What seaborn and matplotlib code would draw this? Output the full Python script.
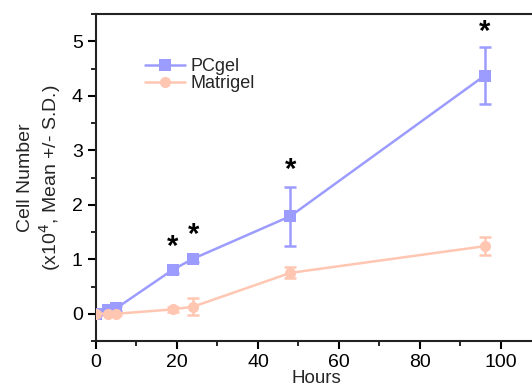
import matplotlib
matplotlib.use("Agg")
import matplotlib.pyplot as plt
import seaborn as sns
import pandas as pd
from matplotlib.ticker import MultipleLocator

hours = [0, 3, 5, 19, 24, 48, 96]
pcgel_mean = [0.0, 0.07, 0.10, 0.81, 1.01, 1.79, 4.37]
pcgel_sd = [0.03, 0.04, 0.05, 0.06, 0.06, 0.54, 0.52]
matrigel_mean = [0.0, 0.0, 0.0, 0.08, 0.13, 0.75, 1.24]
matrigel_sd = [0.02, 0.02, 0.03, 0.05, 0.15, 0.10, 0.16]
star_x = [19, 24, 48, 96]
star_y = [1.22, 1.44, 2.64, 5.17]

blue = "#9C9CFF"
peach = "#FFC6B2"

sns.set_style("ticks")
plt.rcParams['font.family'] = ['Liberation Sans', 'DejaVu Sans']

df = pd.DataFrame({
    "Hours": hours * 2,
    "Value": pcgel_mean + matrigel_mean,
    "Group": ["PCgel"] * len(hours) + ["Matrigel"] * len(hours),
})

fig = plt.figure(figsize=(5.32, 3.87), dpi=100)
ax = fig.add_axes([96/532, 46/387, 1 - 96/532 + 0.01, (341-14)/387])

ax.errorbar(hours, pcgel_mean, yerr=pcgel_sd, fmt='none', ecolor=blue, elinewidth=1.8, capsize=4, capthick=1.8, zorder=2)
ax.errorbar(hours, matrigel_mean, yerr=matrigel_sd, fmt='none', ecolor=peach, elinewidth=1.8, capsize=4, capthick=1.8, zorder=2)

sns.lineplot(data=df, x="Hours", y="Value", hue="Group", style="Group",
             markers={"PCgel": "s", "Matrigel": "o"}, dashes=False,
             palette={"PCgel": blue, "Matrigel": peach},
             linewidth=1.8, markersize=8, markeredgewidth=0, ax=ax, zorder=3)

for sx, sy in zip(star_x, star_y):
    ax.text(sx, sy, "*", ha="center", va="center", fontsize=21, fontweight="bold", color="black")

ax.set_xlim(0, 109)
ax.set_ylim(-0.5, 5.5)
ax.xaxis.set_major_locator(MultipleLocator(20))
ax.xaxis.set_minor_locator(MultipleLocator(10))
ax.yaxis.set_major_locator(MultipleLocator(1))
ax.yaxis.set_minor_locator(MultipleLocator(0.5))
ax.tick_params(which="major", direction="out", length=6, width=1.5, labelsize=14, colors="black")
ax.tick_params(which="minor", direction="out", length=3.5, width=1.2, colors="black")
for s in ["left", "bottom", "top"]:
    ax.spines[s].set_linewidth(1.5)
    ax.spines[s].set_color("#222222")
ax.spines["right"].set_visible(False)

ax.set_xlabel("Hours", fontsize=13.5, labelpad=-1)
ax.set_ylabel("Cell Number\n(x10$^4$, Mean +/- S.D.)", fontsize=14, labelpad=6)

handles, labels = ax.get_legend_handles_labels()
ax.legend(handles, labels, loc="upper left", bbox_to_anchor=(0.075, 0.915), frameon=False,
          fontsize=13, handlelength=2.2, handletextpad=0.3, labelspacing=0.0)

fig.savefig("out.png", dpi=100)
